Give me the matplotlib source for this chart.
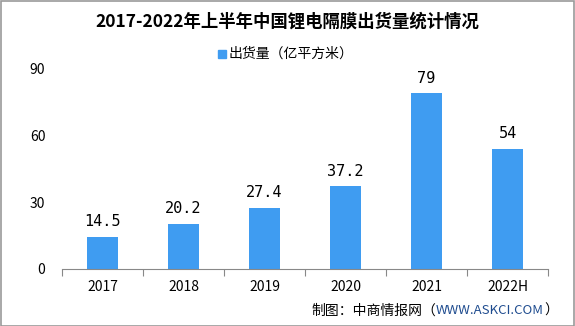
import matplotlib
matplotlib.use("Agg")
import matplotlib.pyplot as plt
from matplotlib.patches import Rectangle

plt.rcParams['font.family'] = ['Noto Sans CJK SC', 'DejaVu Sans']

categories = ["2017", "2018", "2019", "2020", "2021", "2022H"]
values = [14.5, 20.2, 27.4, 37.2, 79, 54]
value_labels = ["14.5", "20.2", "27.4", "37.2", "79", "54"]
yticks = [0, 30, 60, 90]
title = "2017-2022年上半年中国锂电隔膜出货量统计情况"
legend_label = "出货量（亿平方米）"

W, H = 575, 326
fig = plt.figure(figsize=(W/100, H/100), dpi=100)
ax = fig.add_axes([62/W, (H-269)/H, 486/W, 200/H])
bar_color = '#3F9CF1'
x = list(range(len(categories)))
ax.bar(x, values, width=0.39, color=bar_color, zorder=2)
for xi, v, lab in zip(x, values, value_labels):
    ax.text(xi, v + 3.5, lab, ha='center', va='bottom', fontsize=11, family=['DejaVu Sans Mono', 'DejaVu Sans'])
ax.set_xlim(-0.5, len(categories) - 0.5)
ax.set_ylim(0, 90)
ax.set_yticks(yticks)
ax.set_yticklabels([str(t) for t in yticks], fontsize=10)
ax.tick_params(axis='y', length=0, pad=12)
ax.set_xticks([i - 0.5 for i in range(len(categories) + 1)], minor=False)
ax.set_xticklabels([])
ax.tick_params(axis='x', which='major', length=5, color='#888888', direction='out')
ax.set_xticks(x, minor=True)
ax.set_xticklabels(categories, minor=True, fontsize=10)
ax.tick_params(axis='x', which='minor', length=0, pad=8)
for s in ['left', 'right', 'top']:
    ax.spines[s].set_visible(False)
ax.spines['bottom'].set_color('#888888')

fig.text(0.5, 1 - 22/H, title, ha='center', va='center', fontsize=12.5, fontweight='bold')
# legend
fig.patches.append(Rectangle((218/W, 1 - 58/H), 8/W, 8/H, transform=fig.transFigure, color=bar_color))
fig.text(229/W, 1 - 54/H, legend_label, ha='left', va='center', fontsize=10)

# footer
fig.canvas.draw()
r = fig.canvas.get_renderer()
yb = 1 - 311/H
t3 = fig.text(558/W, yb, "）", ha='right', va='center', fontsize=10)
w3 = t3.get_window_extent(r).width
t2 = fig.text((558 - w3)/W, yb, "WWW.ASKCI.COM", ha='right', va='center', fontsize=9.5, color='#1F4C8F')
w2 = t2.get_window_extent(r).width
fig.text((558 - w3 - w2)/W, yb, "制图：中商情报网（", ha='right', va='center', fontsize=10)

fig.patches.append(Rectangle((0.5/W, 0.5/H), (W-1.5)/W, (H-1.5)/H, transform=fig.transFigure,
                             fill=False, edgecolor='#999999', linewidth=1.2))
fig.savefig("out.png", dpi=100)
